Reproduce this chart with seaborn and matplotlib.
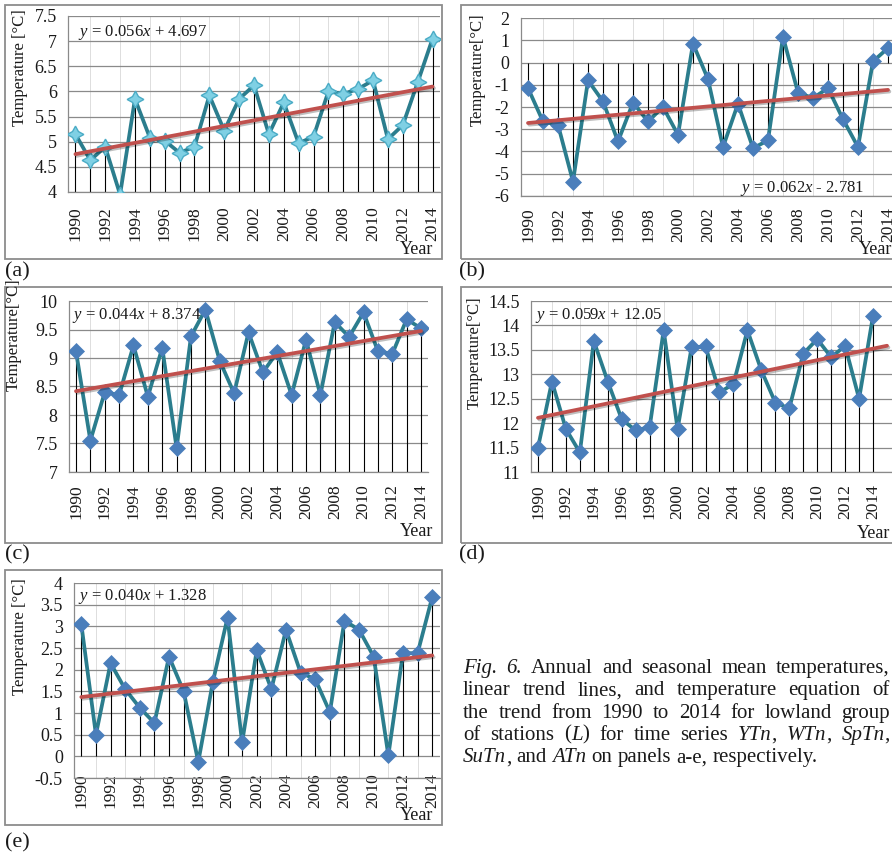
#!/usr/bin/env python3

import matplotlib
matplotlib.use('Agg')
import matplotlib.pyplot as plt
import matplotlib.patheffects as pe
from matplotlib.patches import Rectangle
import seaborn as sns


W, H = 892, 855
SERIF = 'Liberation Serif'
LINE_COLOR = '#2b7d8d'
TREND_COLOR = '#c0504d'
GRID_COLOR = '#8a8a8a'

YEARS = list(range(1990, 2015))
YTN = [5.15, 4.63, 4.90, 3.95, 5.85, 5.08, 5.02, 4.78, 4.90, 5.92, 5.22, 5.85, 6.12,
       5.15, 5.78, 4.97, 5.10, 6.00, 5.95, 6.05, 6.22, 5.05, 5.33, 6.18, 7.05]
WTN = [-1.15, -2.65, -2.80, -5.35, -0.80, -1.75, -3.55, -1.80, -2.65, -2.00, -3.25, 0.85, -0.75,
       -3.80, -1.85, -3.85, -3.50, 1.15, -1.35, -1.60, -1.15, -2.55, -3.80, 0.05, 0.65]
SPTN = [9.12, 7.55, 8.40, 8.35, 9.22, 8.32, 9.18, 7.42, 9.38, 9.85, 8.95, 8.38, 9.45,
        8.75, 9.10, 8.35, 9.32, 8.35, 9.63, 9.37, 9.80, 9.12, 9.07, 9.68, 9.52]
SUTN = [11.50, 12.85, 11.88, 11.40, 13.68, 12.85, 12.08, 11.85, 11.92, 13.90, 11.88, 13.55, 13.57,
        12.63, 12.80, 13.90, 13.08, 12.42, 12.30, 13.42, 13.72, 13.35, 13.58, 12.50, 14.20]
ATN = [3.05, 0.50, 2.15, 1.55, 1.12, 0.77, 2.30, 1.50, -0.13, 1.72, 3.20, 0.32, 2.45,
       1.55, 2.92, 1.93, 1.78, 1.02, 3.13, 2.92, 2.30, 0.02, 2.38, 2.38, 3.67]

SLOPES = [0.056, 0.062, 0.044, 0.059, 0.040]
INTERCEPTS = [4.697, -2.781, 8.374, 12.05, 1.328]
EQUATIONS = [r'$y\,=\,0.056x\,+\,4.697$', r'$y\,=\,0.062x$ - 2.781',
             r'$y\,=\,0.044x\,+\,8.374$', r'$y\,=\,0.059x\,+\,12.05$',
             r'$y\,=\,0.040x\,+\,1.328$']
YLABELS = ['Temperature [°C]', 'Temperature[°C]', 'Temperature[°C]',
           'Temperature[°C]', 'Temperature [°C]']
PANEL_LABELS = ['(a)', '(b)', '(c)', '(d)', '(e)']

CAPTION_LINES = [
    '*Fig.* *6.* Annual and seasonal mean temperatures,',
    'linear trend lines, and temperature equation of',
    'the trend from 1990 to 2014 for lowland group',
    'of stations (*L*) for time series *YTn*, *WTn*, *SpTn*,',
    '*SuTn*, and *ATn* on panels a-e, respectively.',
]

# layout in pixels of the reference: axes box, frame box, label spots
PANELS = [
    dict(data=YTN, ax=(68, 16, 440, 192), frame=(5, 5, 442, 259), ylim=(4, 7.5), step=0.5,
         base=4, xmax=2014.5, trend_end=2014, marker='star', xpad=10.5,
         ylab=(20, 68), eq=(78, 32), year=(433, 250), tag=(5, 272)),
    dict(data=WTN, ax=(520.5, 18, 895.5, 196), frame=(461, 5, 905, 259), ylim=(-6, 2), step=1,
         base=0, xmax=2014.5, trend_end=2014, marker='D', xpad=8,
         ylab=(478, 70), eq=(740, 188), year=(892, 250), tag=(459, 272)),
    dict(data=SPTN, ax=(68.8, 301, 428.2, 472), frame=(5, 287, 442, 543), ylim=(7, 10), step=0.5,
         base=7, xmax=2014.5, trend_end=2014, marker='D', xpad=9,
         ylab=(14, 335), eq=(72, 315), year=(433, 532), tag=(5, 555)),
    dict(data=SUTN, ax=(531, 301, 894, 472), frame=(461, 287, 905, 543), ylim=(11, 14.5), step=0.5,
         base=11, xmax=2015.5, trend_end=2015, marker='D', xpad=9,
         ylab=(475, 353), eq=(535, 315), year=(890, 533), tag=(459, 555)),
    dict(data=ATN, ax=(74, 583, 439.5, 778), frame=(5, 570, 442, 825), ylim=(-0.5, 4), step=0.5,
         base=0, xmax=2014.5, trend_end=2014, marker='D', xpad=-3.5,
         ylab=(20, 637), eq=(78, 597), year=(433, 815), tag=(5, 843)),
]


def fx(px):
    return px / W


def fy(py):
    return 1 - py / H


def draw_panel(fig, spec, idx):
    l, t, r, b = spec['ax']
    ax = fig.add_axes([fx(l), fy(b), (r - l) / W, (b - t) / H])
    ax.set_facecolor('white')
    lo, hi = spec['ylim']
    vals = spec['data']

    # drop lines from the category axis crossing to each point
    ax.vlines(YEARS, spec['base'], vals, color='black', lw=0.8, zorder=2)

    if spec['marker'] == 'star':
        mk = dict(marker=(4, 1, 0), markersize=12, markerfacecolor='#7fd0e4',
                  markeredgecolor='#4bacc6', markeredgewidth=1.0)
    else:
        mk = dict(marker='D', markersize=8, markerfacecolor='#4a7ebb',
                  markeredgecolor='#4a7ebb', markeredgewidth=0.5)
    sns.lineplot(x=YEARS, y=vals, ax=ax, color=LINE_COLOR, lw=2.7, zorder=3, **mk)

    trend_x = list(range(YEARS[0], spec['trend_end'] + 1))
    trend_y = [SLOPES[idx] * (yr - YEARS[0] + 1) + INTERCEPTS[idx] for yr in trend_x]
    sns.lineplot(x=trend_x, y=trend_y, ax=ax, color=TREND_COLOR, lw=2.7, zorder=4,
                 path_effects=[pe.SimpleLineShadow(offset=(1, -1.2), alpha=0.25), pe.Normal()])

    ax.set_xlim(YEARS[0] - 0.5, spec['xmax'])
    ax.set_ylim(lo, hi)
    n = int(round((hi - lo) / spec['step']))
    yt = [lo + k * spec['step'] for k in range(n + 1)]
    ax.set_yticks(yt)
    ax.set_yticklabels([f'{v:g}' for v in yt], fontsize=13)
    ax.set_xticks(YEARS[::2])
    ax.set_xticklabels([str(y) for y in YEARS[::2]], rotation=90, fontsize=12.5)
    ax.set_xticks(YEARS, minor=True)
    ax.tick_params(axis='both', which='both', length=0)
    ax.tick_params(axis='y', pad=8)
    ax.tick_params(axis='x', pad=spec['xpad'])
    ax.grid(axis='y', which='major', color=GRID_COLOR, lw=0.9, zorder=0)
    ax.grid(axis='x', which='minor', color='#d8d8d8', lw=0.6, zorder=0)
    ax.grid(axis='x', which='major', visible=False)
    ax.set_axisbelow(True)
    for side in ['top', 'right']:
        ax.spines[side].set_visible(False)
    for side in ['left', 'bottom']:
        ax.spines[side].set_color(GRID_COLOR)
        ax.spines[side].set_linewidth(0.9)
    ax.set_xlabel('')
    ax.set_ylabel('')

    fl, ft, fr, fb = spec['frame']
    fig.patches.append(Rectangle((fx(fl), fy(fb)), (fr - fl) / W, (fb - ft) / H,
                                 transform=fig.transFigure, fill=False,
                                 edgecolor='#8c8c8c', lw=1.3, zorder=0))

    fig.text(fx(spec['ylab'][0]), fy(spec['ylab'][1]), YLABELS[idx], rotation=90,
             ha='center', va='center', fontsize=12)
    fig.text(fx(spec['eq'][0]), fy(spec['eq'][1]), EQUATIONS[idx], ha='left', va='center',
             fontsize=12)
    fig.text(fx(spec['year'][0]), fy(spec['year'][1]), 'Year', ha='right', va='center',
             fontsize=13)
    fig.text(fx(spec['tag'][0]), fy(spec['tag'][1]), PANEL_LABELS[idx], ha='left',
             va='center', fontsize=16)


def draw_caption(fig, left=463, right=890, top_baseline=673, spacing=22.3, size=15):
    renderer = fig.canvas.get_renderer()
    for i, line in enumerate(CAPTION_LINES):
        words = []
        for w in line.split(' '):
            parts = w.split('*')
            pieces = [(p, 'italic' if k % 2 else 'normal') for k, p in enumerate(parts) if p]
            words.append(pieces)
        y = fy(top_baseline + i * spacing)
        word_objs = []
        for pieces in words:
            objs = [fig.text(0, y, p, style=st, fontsize=size, va='baseline', ha='left')
                    for p, st in pieces]
            widths = [o.get_window_extent(renderer).width for o in objs]
            word_objs.append((objs, widths))
        total = sum(sum(ws) for _, ws in word_objs)
        if i < len(CAPTION_LINES) - 1:
            gap = (right - left - total) / (len(word_objs) - 1)
        else:
            gap = size * 100 / 72 * 0.25
        x = left
        for objs, widths in word_objs:
            for o, wd in zip(objs, widths):
                o.set_x(fx(x))
                x += wd
            x += gap


def main():
    sns.set_style('white')
    plt.rcParams['font.family'] = [SERIF, 'DejaVu Serif']
    plt.rcParams['mathtext.fontset'] = 'custom'
    plt.rcParams['mathtext.rm'] = SERIF
    plt.rcParams['mathtext.it'] = SERIF + ':italic'
    plt.rcParams['text.color'] = '#1a1a1a'
    plt.rcParams['xtick.color'] = '#1a1a1a'
    plt.rcParams['ytick.color'] = '#1a1a1a'

    fig = plt.figure(figsize=(W / 100, H / 100), dpi=100)
    fig.patch.set_facecolor('white')
    for idx, spec in enumerate(PANELS):
        draw_panel(fig, spec, idx)
    draw_caption(fig)
    fig.savefig('out.png', dpi=100)


if __name__ == '__main__':
    main()
